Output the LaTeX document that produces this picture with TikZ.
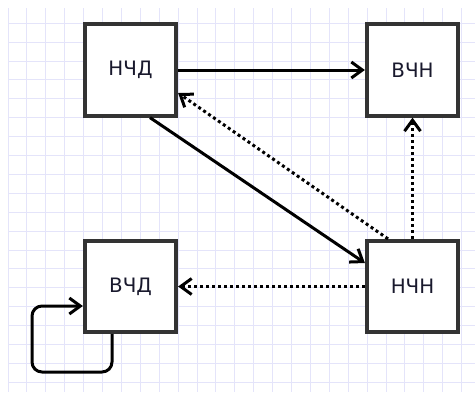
\documentclass[tikz,border=0pt]{standalone}
\usepackage{fontspec}
\setmainfont{DejaVu Sans}
\usetikzlibrary{arrows.meta,calc}
\definecolor{gridc}{RGB}{228,228,250}
\definecolor{boxc}{RGB}{51,51,51}
\definecolor{txtc}{RGB}{25,25,45}
\begin{document}
\begin{tikzpicture}[x=0.02cm,y=-0.02cm,
  statebox/.style={draw=boxc,fill=white,line width=0.075cm,minimum width=1.83cm,minimum height=1.83cm,inner sep=0pt,outer sep=0.0375cm,font=\fontsize{11.3pt}{13pt}\selectfont,text=txtc},
  tip/.style={-{Straight Barb[length=0.22cm,width=0.32cm,line width=0.06cm]}},
  solidarr/.style={tip,line width=0.06cm,black},
  dotarr/.style={tip,line width=0.06cm,black,dash pattern=on 0.06cm off 0.06cm}]
\useasboundingbox (0,0) rectangle (475,392);
\fill[white] (0,0) rectangle (475,392);
% grid
\foreach \k in {0,...,24} {\draw[gridc,line width=0.02cm] ({8+18.9*\k},8) -- ({8+18.9*\k},392);}
\foreach \k in {1,...,20} {\draw[gridc,line width=0.02cm] (8,{4.3+18.9*\k}) -- (475,{4.3+18.9*\k});}
% nodes
\node[statebox] (nchd) at (130.5,70) {НЧД};
\node[statebox] (vchn) at (412.5,70) {ВЧН};
\node[statebox] (vchd) at (130.5,286.5) {ВЧД};
\node[statebox] (nchn) at (412.5,286.5) {НЧН};
\coordinate (loopc) at (32,372);
% connectors
\draw[solidarr] (nchd.east) -- (vchn.west);
\draw[solidarr] ($(nchd.south)+(19.5,0)$) -- ($(nchn.west)+(0,-23.5)$);
\draw[dotarr] ($(nchn.north)+(-24.5,0)$) -- ($(nchd.east)+(0,23)$);
\draw[dotarr] (nchn.north) -- (vchn.south);
\draw[dotarr] (nchn.west) -- (vchd.east);
\draw[solidarr,rounded corners=0.2cm] ($(vchd.south)+(-18.5,0)$) |- (loopc) |- ($(vchd.west)+(0,19.5)$);
\end{tikzpicture}
\end{document}
